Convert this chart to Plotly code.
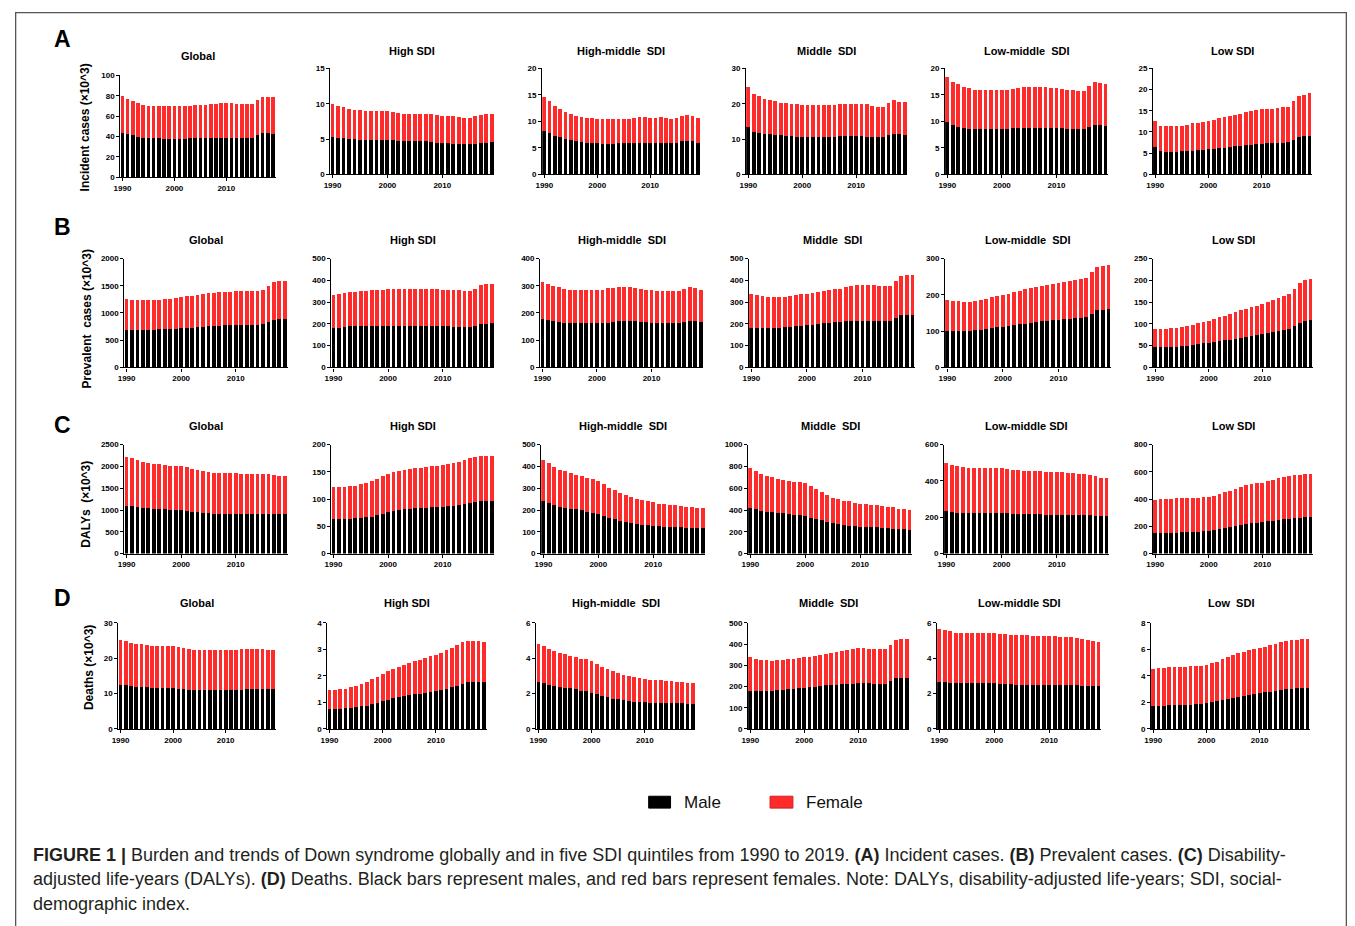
import plotly.graph_objects as go

YEARS = list(range(1990, 2020))
REGIONS = ["Global", "High SDI", "High-middle\u00a0 SDI", "Middle\u00a0 SDI", "Low-middle\u00a0 SDI", "Low SDI"]
REGIONS_C = ["Global", "High SDI", "High-middle\u00a0 SDI", "Middle\u00a0 SDI", "Low-middle SDI", "Low SDI"]
REGIONS_D = ["Global", "High SDI", "High-middle\u00a0 SDI", "Middle\u00a0 SDI", "Low-middle SDI", "Low\u00a0 SDI"]
ROW_LETTERS = ["A", "B", "C", "D"]
ROW_YTITLES = ["Incident cases (×10^3)", "Prevalent\u00a0 cases (×10^3)", "DALYs\u00a0 (×10^3)", "Deaths (×10^3)"]
X_TICKS = [1990, 2000, 2010]

# ---------- A: Incident cases (x10^3) ----------
A_GLOBAL_TOTAL = [80, 77, 75, 73, 71, 70, 70, 69.5, 69.5, 69.5, 69.5, 69.5, 69.5, 70, 70.5, 71, 71, 71.5, 72, 72.5, 72.5, 72.5, 72, 72, 71.5, 71.5, 76, 79, 79, 78.5]
A_GLOBAL_MALE = [43.5, 42, 41, 40, 39, 38.5, 38.5, 38.5, 38, 38, 38, 38, 38, 38.5, 38.5, 39, 39, 39, 39, 39, 39, 39, 39, 39, 39, 39, 41, 43, 43, 42.5]
A_HIGH_TOTAL = [9.9, 9.7, 9.5, 9.3, 9.1, 9.1, 9.0, 9.0, 9.0, 9.0, 9.0, 8.8, 8.7, 8.6, 8.5, 8.5, 8.6, 8.6, 8.5, 8.4, 8.3, 8.3, 8.2, 8.1, 8.0, 8.0, 8.2, 8.4, 8.5, 8.5]
A_HIGH_MALE = [5.3, 5.2, 5.1, 5.0, 5.0, 4.9, 4.9, 4.9, 4.9, 4.85, 4.85, 4.8, 4.75, 4.7, 4.65, 4.65, 4.7, 4.7, 4.6, 4.5, 4.45, 4.4, 4.35, 4.35, 4.3, 4.3, 4.35, 4.45, 4.5, 4.55]
A_HM_TOTAL = [14.6, 13.8, 12.9, 12.3, 11.8, 11.4, 11.1, 10.9, 10.7, 10.6, 10.5, 10.4, 10.4, 10.5, 10.5, 10.5, 10.5, 10.6, 10.8, 10.8, 10.7, 10.7, 10.8, 10.7, 10.5, 10.6, 11.1, 11.2, 11.0, 10.7]
A_HM_MALE = [8.2, 7.8, 7.3, 7.0, 6.7, 6.4, 6.2, 6.1, 6.0, 5.9, 5.9, 5.8, 5.8, 5.8, 5.9, 5.9, 5.9, 5.9, 6.0, 6.0, 6.0, 6.0, 6.0, 6.0, 5.9, 6.0, 6.3, 6.3, 6.2, 6.0]
A_MID_TOTAL = [24.7, 22.7, 22.1, 21.4, 21.0, 20.7, 20.3, 20.1, 20.0, 19.8, 19.7, 19.6, 19.6, 19.6, 19.6, 19.5, 19.5, 19.8, 19.9, 20.0, 20.0, 20.0, 19.8, 19.4, 19.1, 19.2, 20.3, 21.0, 20.6, 20.4]
A_MID_MALE = [13.4, 11.9, 11.8, 11.4, 11.3, 11.2, 11.0, 10.9, 10.8, 10.7, 10.7, 10.7, 10.7, 10.7, 10.7, 10.6, 10.6, 10.8, 10.8, 10.8, 10.8, 10.8, 10.7, 10.6, 10.5, 10.5, 11.0, 11.4, 11.3, 11.2]
A_LM_TOTAL = [18.4, 17.5, 17.0, 16.5, 16.2, 16.0, 16.0, 16.0, 16.0, 16.0, 16.0, 16.0, 16.1, 16.3, 16.4, 16.5, 16.5, 16.5, 16.4, 16.3, 16.2, 16.1, 16.0, 15.9, 15.8, 15.7, 16.6, 17.4, 17.3, 17.1]
A_LM_MALE = [9.8, 9.3, 9.0, 8.8, 8.6, 8.5, 8.5, 8.5, 8.5, 8.6, 8.6, 8.6, 8.7, 8.7, 8.8, 8.8, 8.8, 8.8, 8.8, 8.7, 8.7, 8.7, 8.6, 8.5, 8.5, 8.5, 9.0, 9.3, 9.3, 9.2]
A_LOW_TOTAL = [12.5, 11.4, 11.3, 11.3, 11.3, 11.4, 11.7, 12.0, 12.2, 12.4, 12.6, 12.8, 13.2, 13.5, 13.8, 14.0, 14.3, 14.6, 14.9, 15.1, 15.3, 15.4, 15.5, 15.7, 15.8, 15.9, 17.3, 18.5, 18.8, 19.1]
A_LOW_MALE = [6.5, 5.4, 5.3, 5.3, 5.3, 5.4, 5.5, 5.6, 5.7, 5.8, 5.9, 6.0, 6.2, 6.3, 6.5, 6.6, 6.7, 6.9, 7.0, 7.1, 7.2, 7.3, 7.4, 7.4, 7.5, 7.6, 8.2, 8.8, 9.0, 9.1]

# ---------- B: Prevalent cases (x10^3) ----------
B_GLOBAL_TOTAL = [1260, 1245, 1235, 1230, 1230, 1230, 1240, 1250, 1265, 1275, 1290, 1305, 1320, 1335, 1350, 1360, 1370, 1380, 1385, 1390, 1395, 1400, 1405, 1405, 1410, 1415, 1490, 1570, 1590, 1585]
B_GLOBAL_MALE = [690, 690, 690, 690, 690, 695, 700, 705, 710, 712, 715, 720, 730, 738, 745, 755, 760, 765, 770, 772, 775, 778, 780, 783, 786, 790, 830, 870, 885, 885]
B_HIGH_TOTAL = [333, 338, 342, 345, 348, 350, 352, 354, 356, 357, 358, 358, 358, 358, 358, 358, 358, 358, 358, 358, 357, 356, 355, 354, 353, 352, 362, 378, 383, 384]
B_HIGH_MALE = [180, 183, 186, 188, 189, 190, 191, 191, 192, 192, 192, 192, 191, 191, 190, 190, 190, 189, 189, 189, 188, 188, 187, 187, 186, 186, 192, 198, 200, 202]
B_HM_TOTAL = [313, 307, 300, 294, 288, 286, 285, 285, 285, 285, 285, 285, 290, 293, 296, 297, 296, 293, 289, 285, 283, 282, 281, 280, 280, 280, 288, 295, 293, 285]
B_HM_MALE = [178, 174, 170, 166, 163, 163, 163, 163, 163, 163, 163, 164, 165, 167, 169, 170, 170, 169, 168, 166, 164, 164, 164, 164, 164, 164, 168, 172, 170, 166]
B_MID_TOTAL = [337, 331, 327, 323, 322, 323, 325, 328, 331, 335, 338, 341, 345, 349, 354, 358, 362, 367, 372, 377, 380, 380, 378, 376, 376, 376, 398, 420, 425, 424]
B_MID_MALE = [180, 180, 180, 180, 181, 182, 184, 186, 189, 192, 195, 197, 200, 203, 205, 207, 209, 211, 213, 214, 215, 215, 215, 214, 214, 214, 228, 240, 242, 241]
B_LM_TOTAL = [186, 184, 182, 181, 181, 183, 186, 189, 193, 197, 200, 203, 207, 211, 215, 218, 222, 225, 228, 231, 233, 236, 238, 240, 243, 247, 262, 276, 280, 281]
B_LM_MALE = [101, 100, 100, 100, 101, 102, 104, 106, 108, 110, 111, 114, 116, 119, 121, 123, 125, 127, 129, 130, 131, 133, 134, 136, 137, 138, 148, 157, 159, 160]
B_LOW_TOTAL = [88, 88, 89, 90, 91, 93, 95, 98, 101, 104, 107, 111, 115, 119, 123, 127, 131, 135, 138, 142, 146, 151, 155, 159, 163, 168, 181, 194, 200, 203]
B_LOW_MALE = [46, 46, 47, 47, 48, 49, 50, 51, 53, 55, 56, 58, 60, 62, 64, 66, 68, 70, 72, 74, 77, 79, 82, 84, 86, 88, 96, 103, 106, 108]

# ---------- C: DALYs (x10^3) ----------
C_GLOBAL_TOTAL = [2220, 2190, 2140, 2100, 2080, 2060, 2050, 2030, 2020, 2020, 2000, 1980, 1950, 1920, 1890, 1870, 1860, 1860, 1850, 1850, 1840, 1830, 1830, 1830, 1830, 1830, 1820, 1800, 1790, 1780]
C_GLOBAL_MALE = [1100, 1090, 1070, 1050, 1040, 1030, 1030, 1020, 1010, 1000, 990, 980, 960, 950, 935, 925, 920, 915, 910, 905, 900, 900, 900, 900, 900, 905, 900, 900, 900, 900]
C_HIGH_TOTAL = [123, 123, 123, 124, 125, 127, 130, 133, 137, 142, 147, 150, 152, 154, 155, 157, 158, 159, 160, 161, 162, 164, 166, 169, 172, 175, 178, 180, 180, 179]
C_HIGH_MALE = [64, 64, 64, 64, 65, 66, 67, 68, 70, 73, 76, 78, 80, 81, 82, 83, 83, 84, 85, 85, 86, 87, 88, 89, 91, 93, 95, 96, 97, 97]
C_HM_TOTAL = [428, 415, 398, 385, 377, 370, 363, 354, 346, 344, 333, 318, 303, 290, 278, 267, 258, 250, 245, 241, 235, 229, 226, 223, 221, 218, 215, 212, 210, 208]
C_HM_MALE = [240, 232, 222, 215, 210, 207, 205, 200, 192, 188, 180, 172, 165, 158, 150, 145, 140, 135, 133, 130, 128, 125, 123, 122, 121, 120, 119, 118, 117, 116]
C_MID_TOTAL = [785, 762, 735, 715, 700, 688, 680, 668, 655, 660, 645, 620, 592, 562, 535, 515, 500, 487, 480, 467, 458, 455, 450, 445, 440, 432, 425, 410, 405, 400]
C_MID_MALE = [415, 410, 395, 382, 378, 375, 372, 365, 355, 350, 345, 330, 318, 305, 288, 278, 270, 262, 258, 252, 248, 245, 242, 240, 238, 235, 230, 225, 222, 220]
C_LM_TOTAL = [497, 488, 480, 475, 472, 472, 472, 472, 472, 472, 472, 468, 462, 458, 456, 456, 455, 453, 452, 450, 449, 447, 445, 444, 441, 438, 432, 425, 418, 416]
C_LM_MALE = [235, 230, 226, 226, 226, 226, 226, 226, 226, 226, 226, 222, 220, 218, 217, 216, 216, 216, 215, 215, 215, 215, 214, 214, 213, 212, 210, 209, 208, 208]
C_LOW_TOTAL = [395, 398, 400, 403, 405, 406, 407, 408, 410, 413, 418, 425, 437, 450, 463, 478, 492, 503, 510, 517, 522, 530, 540, 552, 562, 572, 578, 580, 582, 582]
C_LOW_MALE = [150, 150, 152, 153, 155, 156, 158, 160, 162, 164, 166, 172, 178, 186, 194, 202, 210, 216, 222, 227, 232, 237, 242, 247, 252, 256, 260, 263, 266, 268]

# ---------- D: Deaths (x10^3) ----------
D_GLOBAL_TOTAL = [25.2, 24.8, 24.4, 24.1, 23.9, 23.7, 23.6, 23.5, 23.4, 23.5, 23.5, 23.2, 22.9, 22.7, 22.4, 22.4, 22.3, 22.3, 22.2, 22.2, 22.2, 22.2, 22.3, 22.5, 22.6, 22.7, 22.7, 22.5, 22.3, 22.2]
D_GLOBAL_MALE = [12.5, 12.3, 12.1, 11.9, 11.8, 11.8, 11.7, 11.7, 11.6, 11.6, 11.5, 11.3, 11.2, 11.1, 10.9, 10.9, 10.9, 10.9, 10.9, 10.9, 10.9, 10.9, 11.0, 11.1, 11.2, 11.3, 11.3, 11.3, 11.2, 11.2]
D_HIGH_TOTAL = [1.48, 1.48, 1.49, 1.52, 1.57, 1.63, 1.70, 1.78, 1.87, 1.97, 2.07, 2.17, 2.26, 2.35, 2.42, 2.48, 2.55, 2.61, 2.68, 2.74, 2.80, 2.88, 2.97, 3.06, 3.16, 3.27, 3.33, 3.33, 3.32, 3.29]
D_HIGH_MALE = [0.74, 0.75, 0.76, 0.77, 0.79, 0.82, 0.85, 0.88, 0.93, 0.98, 1.04, 1.10, 1.15, 1.20, 1.24, 1.27, 1.30, 1.33, 1.36, 1.39, 1.43, 1.47, 1.52, 1.57, 1.63, 1.70, 1.76, 1.77, 1.77, 1.76]
D_HM_TOTAL = [4.80, 4.68, 4.52, 4.40, 4.32, 4.23, 4.15, 4.07, 3.96, 3.95, 3.85, 3.67, 3.51, 3.38, 3.25, 3.16, 3.06, 2.98, 2.93, 2.88, 2.85, 2.79, 2.76, 2.74, 2.73, 2.71, 2.68, 2.64, 2.62, 2.60]
D_HM_MALE = [2.66, 2.58, 2.50, 2.43, 2.38, 2.34, 2.30, 2.25, 2.15, 2.12, 2.05, 1.95, 1.87, 1.80, 1.72, 1.67, 1.62, 1.57, 1.55, 1.53, 1.52, 1.49, 1.48, 1.47, 1.46, 1.46, 1.45, 1.44, 1.43, 1.43]
D_MID_TOTAL = [337, 331, 327, 323, 322, 323, 325, 328, 331, 335, 338, 341, 345, 349, 354, 358, 362, 367, 372, 377, 380, 380, 378, 376, 376, 376, 398, 420, 425, 424]
D_MID_MALE = [180, 180, 180, 180, 181, 182, 184, 186, 189, 192, 195, 197, 200, 203, 205, 207, 209, 211, 213, 214, 215, 215, 215, 214, 214, 214, 228, 240, 242, 241]
D_LM_TOTAL = [5.68, 5.60, 5.53, 5.45, 5.43, 5.43, 5.43, 5.43, 5.43, 5.43, 5.43, 5.38, 5.35, 5.31, 5.30, 5.30, 5.29, 5.28, 5.28, 5.26, 5.25, 5.24, 5.23, 5.22, 5.20, 5.16, 5.10, 5.02, 4.95, 4.93]
D_LM_MALE = [2.68, 2.66, 2.60, 2.60, 2.60, 2.60, 2.60, 2.60, 2.60, 2.60, 2.60, 2.56, 2.54, 2.52, 2.51, 2.51, 2.51, 2.51, 2.50, 2.50, 2.50, 2.50, 2.50, 2.49, 2.49, 2.48, 2.45, 2.43, 2.42, 2.41]
D_LOW_TOTAL = [4.55, 4.58, 4.63, 4.68, 4.70, 4.70, 4.70, 4.72, 4.75, 4.78, 4.85, 4.95, 5.08, 5.25, 5.40, 5.55, 5.70, 5.83, 5.92, 6.00, 6.08, 6.18, 6.30, 6.42, 6.55, 6.65, 6.70, 6.73, 6.75, 6.78]
D_LOW_MALE = [1.70, 1.72, 1.75, 1.77, 1.79, 1.80, 1.82, 1.84, 1.87, 1.90, 1.94, 2.00, 2.08, 2.17, 2.26, 2.35, 2.44, 2.52, 2.58, 2.64, 2.70, 2.76, 2.82, 2.88, 2.94, 2.99, 3.02, 3.05, 3.08, 3.10]

# Y axis maxima and tick steps per row
Y_MAX = [[100, 15, 20, 30, 20, 25], [2000, 500, 400, 500, 300, 250], [2500, 200, 500, 1000, 600, 800], [30, 4, 6, 500, 6, 8]]
Y_STEP = [[20, 5, 5, 10, 5, 5], [500, 100, 100, 100, 100, 50], [500, 50, 100, 200, 200, 200], [10, 1, 2, 100, 2, 2]]

PANELS = [
    [(A_GLOBAL_MALE, A_GLOBAL_TOTAL), (A_HIGH_MALE, A_HIGH_TOTAL), (A_HM_MALE, A_HM_TOTAL), (A_MID_MALE, A_MID_TOTAL), (A_LM_MALE, A_LM_TOTAL), (A_LOW_MALE, A_LOW_TOTAL)],
    [(B_GLOBAL_MALE, B_GLOBAL_TOTAL), (B_HIGH_MALE, B_HIGH_TOTAL), (B_HM_MALE, B_HM_TOTAL), (B_MID_MALE, B_MID_TOTAL), (B_LM_MALE, B_LM_TOTAL), (B_LOW_MALE, B_LOW_TOTAL)],
    [(C_GLOBAL_MALE, C_GLOBAL_TOTAL), (C_HIGH_MALE, C_HIGH_TOTAL), (C_HM_MALE, C_HM_TOTAL), (C_MID_MALE, C_MID_TOTAL), (C_LM_MALE, C_LM_TOTAL), (C_LOW_MALE, C_LOW_TOTAL)],
    [(D_GLOBAL_MALE, D_GLOBAL_TOTAL), (D_HIGH_MALE, D_HIGH_TOTAL), (D_HM_MALE, D_HM_TOTAL), (D_MID_MALE, D_MID_TOTAL), (D_LM_MALE, D_LM_TOTAL), (D_LOW_MALE, D_LOW_TOTAL)],
]
TITLES = [REGIONS, REGIONS, REGIONS_C, REGIONS_D]

# ---------- layout geometry (page pixels) ----------
W, H = 1355, 926
PANEL_X = [
    [(114, 270), (325, 490), (538, 697), (743, 905), (943, 1107), (1152, 1312)],
    [(118, 282), (326, 490), (536, 700), (746, 913), (943, 1110), (1152, 1313)],
    [(118, 282), (326, 490), (537, 702), (745, 910), (942, 1108), (1152, 1313)],
    [(112, 270), (322, 482), (532, 692), (745, 907), (935, 1100), (1150, 1310)],
]
PANEL_Y = [
    [(72, 175), (65, 172), (65, 172), (65, 172), (65, 172), (65, 172)],
    [(257, 367)] * 6,
    [(445, 555)] * 6,
    [(625, 732)] * 6,
]
TITLE_Y = [[53, 47, 47, 47, 47, 47], [238] * 6, [426] * 6, [605] * 6]
LETTER_Y = [35, 225, 425, 600]
YTITLE_POS = [(78, 125), (80, 318), (80, 505), (83, 670)]

MALE_COLOR = "#000000"
FEMALE_COLOR = "#ff2b2b"
FONT = "Liberation Sans, Arial, sans-serif"


def px(x):
    return x / W


def py(y):
    return 1 - y / H


fig = go.Figure()
layout_axes = {}
annotations = []
idx = 0
for r in range(4):
    for c in range(6):
        idx += 1
        male, total = PANELS[r][c]
        female = [t - m for t, m in zip(total, male)]
        xa = "x" if idx == 1 else f"x{idx}"
        ya = "y" if idx == 1 else f"y{idx}"
        fig.add_trace(go.Bar(x=YEARS, y=male, marker=dict(color=MALE_COLOR, line=dict(width=0)),
                             xaxis=xa, yaxis=ya, showlegend=False, name="Male"))
        fig.add_trace(go.Bar(x=YEARS, y=female, marker=dict(color=FEMALE_COLOR, line=dict(width=0)),
                             xaxis=xa, yaxis=ya, showlegend=False, name="Female"))
        x0, x1 = PANEL_X[r][c]
        ytop, yzero = PANEL_Y[r][c]
        suffix = "" if idx == 1 else str(idx)
        layout_axes["xaxis" + suffix] = dict(
            domain=[px(x0), px(x1)], anchor=ya, range=[1989.6, 2019.5],
            tickvals=X_TICKS, ticks="outside", ticklen=3, tickwidth=1, tickcolor="black",
            showline=True, linecolor="black", linewidth=1.2, showgrid=False, zeroline=False,
            tickfont=dict(size=8, family=FONT, color="black", weight="bold"), fixedrange=True,
        )
        layout_axes["yaxis" + suffix] = dict(
            domain=[py(yzero), py(ytop)], anchor=xa, range=[0, Y_MAX[r][c]],
            dtick=Y_STEP[r][c], tick0=0, ticks="outside", ticklen=3, tickwidth=1, tickcolor="black",
            showline=True, linecolor="black", linewidth=1.2, showgrid=False, zeroline=False,
            tickfont=dict(size=8, family=FONT, color="black", weight="bold"), fixedrange=True,
        )
        annotations.append(dict(
            text="<b>" + TITLES[r][c] + "</b>", x=px((x0 + x1) / 2), y=py(TITLE_Y[r][c]),
            xref="paper", yref="paper", showarrow=False, xanchor="center", yanchor="middle",
            font=dict(size=11, family=FONT, color="black"),
        ))
    annotations.append(dict(
        text="<b>" + ROW_LETTERS[r] + "</b>", x=px(56), y=py(LETTER_Y[r]), xref="paper", yref="paper",
        showarrow=False, xanchor="center", yanchor="middle", font=dict(size=23, family=FONT, color="black"),
    ))
    annotations.append(dict(
        text="<b>" + ROW_YTITLES[r] + "</b>", x=px(YTITLE_POS[r][0]), y=py(YTITLE_POS[r][1]),
        xref="paper", yref="paper", showarrow=False, xanchor="center", yanchor="middle", textangle=-90,
        font=dict(size=12, family=FONT, color="black"),
    ))

# legend (manual keys) and outer frame
shapes = [
    dict(type="rect", xref="paper", yref="paper", x0=px(645), x1=px(667), y0=py(812), y1=py(800),
         fillcolor=MALE_COLOR, line=dict(color="#000000", width=1)),
    dict(type="rect", xref="paper", yref="paper", x0=px(767), x1=px(790), y0=py(812), y1=py(800),
         fillcolor=FEMALE_COLOR, line=dict(color="#cc2222", width=1)),
    dict(type="rect", xref="paper", yref="paper", x0=px(8.7), x1=px(1346.3), y0=py(960), y1=py(8.7),
         fillcolor="rgba(0,0,0,0)", line=dict(color="#555555", width=1.3)),
]
annotations.append(dict(text="Male", x=px(679), y=py(806), xref="paper", yref="paper", showarrow=False,
                        xanchor="left", yanchor="middle", font=dict(size=17, family=FONT, color="#111111")))
annotations.append(dict(text="Female", x=px(801), y=py(806), xref="paper", yref="paper", showarrow=False,
                        xanchor="left", yanchor="middle", font=dict(size=17, family=FONT, color="#111111")))

CAPTION = [
    "<b>FIGURE 1 |</b> Burden and trends of Down syndrome globally and in five SDI quintiles from 1990 to 2019. <b>(A)</b> Incident cases. <b>(B)</b> Prevalent cases. <b>(C)</b> Disability-",
    "adjusted life-years (DALYs). <b>(D)</b> Deaths. Black bars represent males, and red bars represent females. Note: DALYs, disability-adjusted life-years; SDI, social-",
    "demographic index.",
]
CAP_FONT = "Liberation Sans Narrow, Arial Narrow, Liberation Sans, Arial, sans-serif"
for i, line in enumerate(CAPTION):
    annotations.append(dict(text=line, x=px(24), y=py(859 + 25 * i), xref="paper", yref="paper",
                            showarrow=False, xanchor="left", yanchor="middle",
                            font=dict(size=18, family=CAP_FONT, color="#231f20")))

fig.update_layout(
    width=W, height=H, margin=dict(l=0, r=0, t=0, b=0), paper_bgcolor="white", plot_bgcolor="white",
    barmode="stack", bargap=0.3, annotations=annotations, shapes=shapes, showlegend=False,
    **layout_axes,
)

fig.write_html(
    "out.html",
    config={"displayModeBar": False},
    post_script="document.body.style.margin='0';document.body.style.overflow='hidden';",
)
